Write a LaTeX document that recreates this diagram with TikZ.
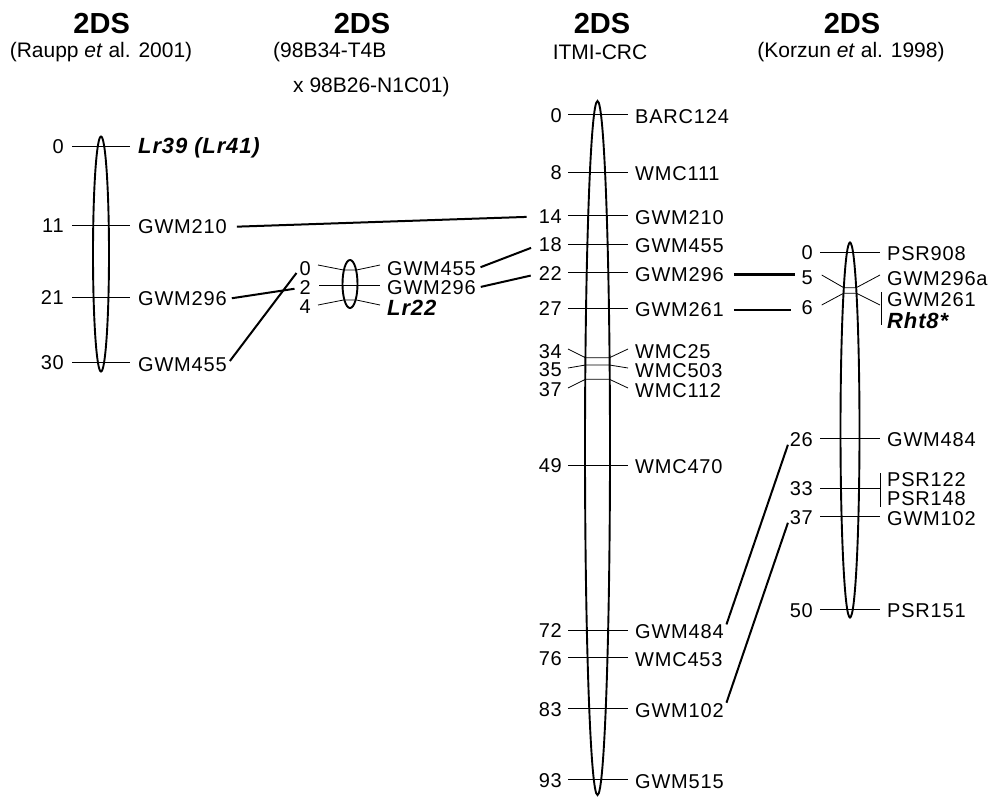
\documentclass[tikz,border=0pt]{standalone}
\usepackage{fontspec}
\setmainfont{Liberation Sans}
\newfontfamily\mk[LetterSpace=4]{Liberation Sans}
\begin{document}
\begin{tikzpicture}[x=1pt,y=-1pt,
  chrom/.style={line width=1.9pt},
  tick/.style={line width=0.8pt},
  link/.style={line width=2pt},
  thicklink/.style={line width=2.8pt},
  num/.style={anchor=east, inner sep=0pt, font=\mk\fontsize{20}{22}\selectfont},
  lbl/.style={anchor=west, inner sep=0pt, font=\mk\fontsize{20}{22}\selectfont},
  gene/.style={anchor=west, inner sep=0pt, font=\mk\fontsize{22}{24}\selectfont\bfseries\itshape},
  ttl/.style={inner sep=0pt, font=\bfseries\fontsize{29}{31}\selectfont},
  sub/.style={inner sep=0pt, font=\fontsize{21}{23}\selectfont}]
\useasboundingbox (0,0) rectangle (991,796);

% ---------- headers ----------
\node[ttl] (h1) at (101.7,24) {2DS};
\node[sub] (s1) at (101,52) {(Raupp \textit{et} al. 2001)};
\node[ttl] (h2) at (362,24) {2DS};
\node[sub, anchor=west] (s2a) at (273,52) {(98B34-T4B};
\node[sub, anchor=west] (s2b) at (293,87) {x 98B26-N1C01)};
\node[ttl] (h3) at (602,24) {2DS};
\node[sub] (s3) at (600,52) {ITMI-CRC};
\node[ttl] (h4) at (852,24) {2DS};
\node[sub] (s4) at (851,52) {(Korzun \textit{et} al. 1998)};

% ---------- chromosome 1 (Raupp) ----------
\draw[chrom] (101,254) ellipse [x radius=8pt, y radius=117.5pt];
\foreach \y in {146,225,297,362} \draw[tick] (72,\y) -- (130,\y);
\node[num] (a0)  at (64,147) {0};
\node[num] (a11) at (64,226) {11};
\node[num] (a21) at (64,298) {21};
\node[num] (a30) at (64,363) {30};
\node[gene] (aLr) at (138,148) {Lr39 (Lr41)};
\node[lbl] (a210) at (138,227) {GWM210};
\node[lbl] (a296) at (138,299) {GWM296};
\node[lbl] (a455) at (138,365) {GWM455};

% ---------- chromosome 2 ----------
\draw[chrom] (350,284) ellipse [x radius=7.5pt, y radius=24pt];
\draw[tick] (318,265) -- (343.5,270) -- (356.5,270) -- (380,265);
\draw[tick] (319,285) -- (380,285);
\draw[tick] (318,305) -- (343.5,300) -- (356.5,300) -- (380,305);
\node[num] (b0) at (311,269) {0};
\node[num] (b2) at (311,288) {2};
\node[num] (b4) at (311,307) {4};
\node[lbl] (b455) at (387,269) {GWM455};
\node[lbl] (b296) at (387,288) {GWM296};
\node[gene] (bLr) at (387,308) {Lr22};

% ---------- chromosome 3 (ITMI) ----------
\draw[chrom] (597.5,448) ellipse [x radius=12.5pt, y radius=347pt];
\foreach \y in {114.5,172,215.5,244,272.8,308,465,630,657.7,708.3,779.3}
  \draw[tick] (568,\y) -- (628,\y);
\draw[tick] (568,349) -- (585.5,357.7) -- (609.5,357.7) -- (628,349);
\draw[tick] (568,368) -- (585.5,365) -- (609.5,365) -- (628,368);
\draw[tick] (568,388) -- (585.5,379.3) -- (609.5,379.3) -- (628,388);
\node[num] (c0)  at (562,115.5) {0};
\node[num] (c8)  at (562,173) {8};
\node[num] (c14) at (562,216.5) {14};
\node[num] (c18) at (562,245) {18};
\node[num] (c22) at (562,273.8) {22};
\node[num] (c27) at (562,309) {27};
\node[num] (c34) at (562,351.5) {34};
\node[num] (c35) at (562,370) {35};
\node[num] (c37) at (562,390) {37};
\node[num] (c49) at (562,466) {49};
\node[num] (c72) at (562,631) {72};
\node[num] (c76) at (562,658.7) {76};
\node[num] (c83) at (562,709.3) {83};
\node[num] (c93) at (562,780.3) {93};
\node[lbl] (cB124) at (635,116.5) {BARC124};
\node[lbl] (c111) at (635,174) {WMC111};
\node[lbl] (c210) at (635,217.5) {GWM210};
\node[lbl] (c455) at (635,246) {GWM455};
\node[lbl] (c296) at (635,274.8) {GWM296};
\node[lbl] (c261) at (635,310) {GWM261};
\node[lbl] (c25)  at (635,352) {WMC25};
\node[lbl] (c503) at (635,371) {WMC503};
\node[lbl] (c112) at (635,391) {WMC112};
\node[lbl] (c470) at (635,467) {WMC470};
\node[lbl] (c484) at (635,632) {GWM484};
\node[lbl] (c453) at (635,659.7) {WMC453};
\node[lbl] (c102) at (635,710.3) {GWM102};
\node[lbl] (c515) at (635,781.3) {GWM515};

% ---------- chromosome 4 (Korzun) ----------
\draw[chrom] (850,430) ellipse [x radius=9.5pt, y radius=187.5pt];
\foreach \y in {252,438,516.6,609.5} \draw[tick] (820,\y) -- (880,\y);
\draw[tick] (820,488) -- (880,488);
\draw[tick] (821.7,275) -- (843.8,287.7) -- (856.2,287.7) -- (880,275);
\draw[tick] (821.7,305) -- (843.5,293.3) -- (856.5,293.3) -- (880,305);
\draw[tick] (881,292) -- (881,325);
\draw[tick] (880,473) -- (880,507);
\node[num] (d0)  at (813,253) {0};
\node[num] (d5)  at (813,278) {5};
\node[num] (d6)  at (813,308) {6};
\node[num] (d26) at (813,440) {26};
\node[num] (d33) at (813,489) {33};
\node[num] (d37) at (813,518) {37};
\node[num] (d50) at (813,611) {50};
\node[lbl] (d908) at (887,254) {PSR908};
\node[lbl] (d296a) at (887,279) {GWM296a};
\node[lbl] (d261) at (887,300) {GWM261};
\node[gene] (dRht) at (887,321) {Rht8*};
\node[lbl] (d484) at (887,440) {GWM484};
\node[lbl] (d122) at (887,479.5) {PSR122};
\node[lbl] (d148) at (887,498.5) {PSR148};
\node[lbl] (d102) at (887,519) {GWM102};
\node[lbl] (d151) at (887,611) {PSR151};

% ---------- connectors ----------
\draw[link, shorten <=10pt, shorten >=12pt] (a210.east) -- (c14.west);
\draw[link, shorten <=5pt, shorten >=5pt] (a296.east) -- (b2.west);
\draw[link, shorten <=5pt, shorten >=5pt] (a455.east) -- (b0.west);
\draw[link, shorten <=5pt, shorten >=8pt] (b455.east) -- (c18.west);
\draw[link, shorten <=5pt, shorten >=8pt] (b296.east) -- (c22.west);
\draw[thicklink, shorten <=10pt, shorten >=6pt] (c296.east) -- (c296.east -| d5.west);
\draw[thicklink, shorten <=10pt, shorten >=10pt] (c261.east) -- (c261.east -| d6.west);
\draw[link, shorten <=8pt, shorten >=5pt] (c484.east) -- (d26.west);
\draw[link, shorten <=8pt, shorten >=5pt] (c102.east) -- (d37.west);
\end{tikzpicture}
\end{document}
